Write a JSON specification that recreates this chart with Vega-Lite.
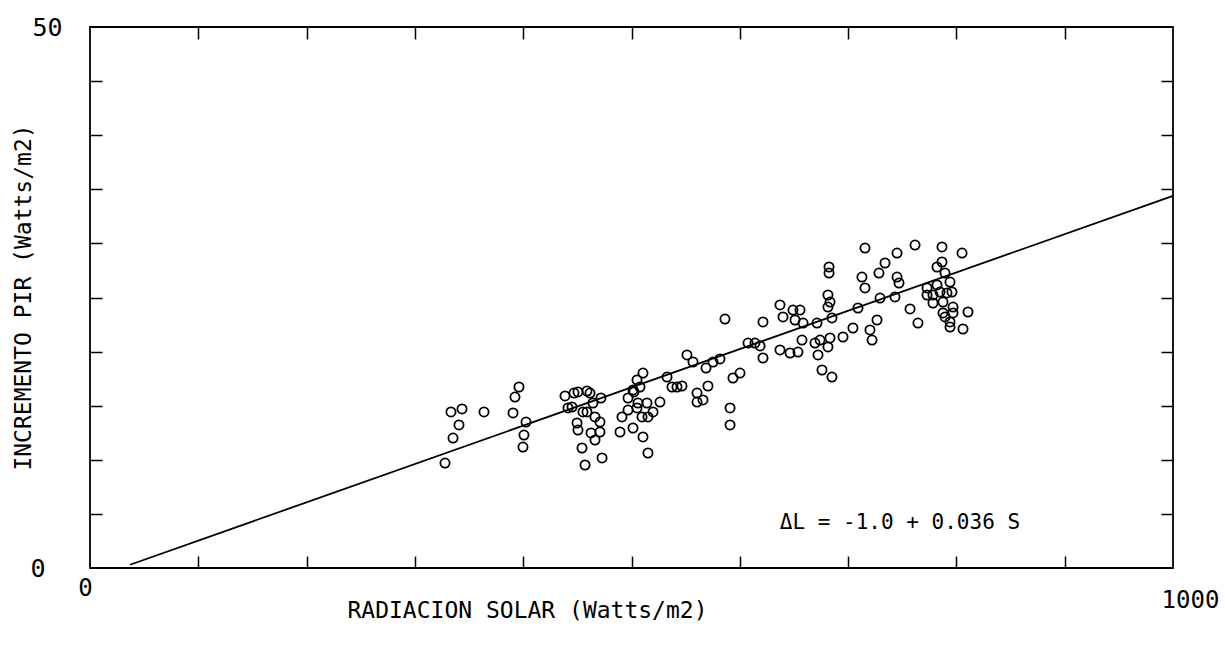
{
  "$schema": "https://vega.github.io/schema/vega-lite/v6.json",
  "width": 1083,
  "height": 541,
  "autosize": {"type": "none"},
  "padding": {"left": 90, "top": 27, "right": 52, "bottom": 78},
  "background": "white",
  "datasets": {
    "points": [
      {"S": 327.8, "L": 9.70}, {"S": 335.2, "L": 12.01}, {"S": 333.3, "L": 14.42}, {"S": 343.5, "L": 14.70},
      {"S": 340.7, "L": 13.22}, {"S": 363.8, "L": 14.42}, {"S": 390.6, "L": 14.33}, {"S": 392.4, "L": 15.80},
      {"S": 396.1, "L": 16.73}, {"S": 402.6, "L": 13.49}, {"S": 400.7, "L": 12.29}, {"S": 399.8, "L": 11.18},
      {"S": 438.6, "L": 15.90}, {"S": 441.4, "L": 14.79}, {"S": 446.9, "L": 16.17}, {"S": 450.6, "L": 16.27},
      {"S": 458.9, "L": 16.36}, {"S": 461.7, "L": 16.17}, {"S": 464.4, "L": 15.25}, {"S": 471.8, "L": 15.71},
      {"S": 445.1, "L": 14.88}, {"S": 455.2, "L": 14.42}, {"S": 458.9, "L": 14.42}, {"S": 466.3, "L": 13.96},
      {"S": 449.7, "L": 13.40}, {"S": 450.6, "L": 12.75}, {"S": 470.9, "L": 13.49}, {"S": 470.9, "L": 12.57},
      {"S": 462.6, "L": 12.48}, {"S": 466.3, "L": 11.83}, {"S": 454.3, "L": 11.09}, {"S": 457.1, "L": 9.52},
      {"S": 472.8, "L": 10.17}, {"S": 489.4, "L": 12.57}, {"S": 491.2, "L": 13.96}, {"S": 496.8, "L": 14.60},
      {"S": 501.4, "L": 12.94}, {"S": 505.1, "L": 14.79}, {"S": 506.0, "L": 15.25}, {"S": 509.7, "L": 13.96},
      {"S": 514.3, "L": 15.25}, {"S": 515.2, "L": 13.96}, {"S": 510.6, "L": 12.11}, {"S": 515.2, "L": 10.63},
      {"S": 519.9, "L": 14.42}, {"S": 526.3, "L": 15.34}, {"S": 501.4, "L": 16.45}, {"S": 507.8, "L": 16.73},
      {"S": 510.6, "L": 18.02}, {"S": 505.1, "L": 17.38}, {"S": 496.8, "L": 15.71}, {"S": 502.3, "L": 16.27},
      {"S": 532.8, "L": 17.65}, {"S": 537.4, "L": 16.73}, {"S": 542.0, "L": 16.73}, {"S": 546.6, "L": 16.82},
      {"S": 551.2, "L": 19.69}, {"S": 556.8, "L": 19.04}, {"S": 560.5, "L": 16.17}, {"S": 560.5, "L": 15.34},
      {"S": 566.0, "L": 15.53}, {"S": 568.8, "L": 18.48}, {"S": 575.3, "L": 19.04}, {"S": 581.7, "L": 19.32},
      {"S": 570.6, "L": 16.82}, {"S": 586.3, "L": 23.01}, {"S": 593.7, "L": 17.56}, {"S": 600.2, "L": 18.02},
      {"S": 591.0, "L": 14.79}, {"S": 591.0, "L": 13.22}, {"S": 607.6, "L": 20.79}, {"S": 614.0, "L": 20.79},
      {"S": 618.7, "L": 20.52}, {"S": 621.4, "L": 22.74}, {"S": 621.4, "L": 19.41}, {"S": 637.1, "L": 24.31},
      {"S": 649.1, "L": 23.84}, {"S": 655.6, "L": 23.84}, {"S": 639.9, "L": 23.20}, {"S": 651.0, "L": 22.92},
      {"S": 658.4, "L": 22.64}, {"S": 671.3, "L": 22.64}, {"S": 637.1, "L": 20.15}, {"S": 646.4, "L": 19.87},
      {"S": 653.7, "L": 19.96}, {"S": 657.4, "L": 21.07}, {"S": 669.4, "L": 20.79}, {"S": 672.2, "L": 19.69},
      {"S": 675.9, "L": 18.30}, {"S": 685.1, "L": 17.65}, {"S": 674.1, "L": 21.07}, {"S": 681.4, "L": 20.43},
      {"S": 683.3, "L": 21.26}, {"S": 681.4, "L": 25.23}, {"S": 683.3, "L": 24.58}, {"S": 681.4, "L": 24.12},
      {"S": 682.4, "L": 27.82}, {"S": 682.4, "L": 27.26}, {"S": 685.1, "L": 23.11}, {"S": 695.3, "L": 21.35},
      {"S": 704.5, "L": 22.18}, {"S": 709.1, "L": 24.03}, {"S": 712.8, "L": 26.89}, {"S": 715.6, "L": 25.88},
      {"S": 715.6, "L": 29.57}, {"S": 720.2, "L": 22.00}, {"S": 722.1, "L": 21.07}, {"S": 726.7, "L": 22.92},
      {"S": 728.5, "L": 27.26}, {"S": 729.5, "L": 24.95}, {"S": 734.1, "L": 28.19}, {"S": 743.3, "L": 25.05},
      {"S": 745.2, "L": 29.11}, {"S": 745.2, "L": 26.89}, {"S": 747.0, "L": 26.34}, {"S": 757.2, "L": 23.94},
      {"S": 761.8, "L": 29.85}, {"S": 764.5, "L": 22.64}, {"S": 772.9, "L": 25.88}, {"S": 772.9, "L": 25.23},
      {"S": 778.4, "L": 25.23}, {"S": 778.4, "L": 24.49}, {"S": 782.1, "L": 26.16}, {"S": 782.1, "L": 27.82},
      {"S": 784.9, "L": 25.51}, {"S": 786.7, "L": 28.28}, {"S": 786.7, "L": 29.67}, {"S": 787.6, "L": 24.58},
      {"S": 789.5, "L": 27.26}, {"S": 791.3, "L": 25.42}, {"S": 794.1, "L": 26.43}, {"S": 795.9, "L": 25.51},
      {"S": 796.9, "L": 24.12}, {"S": 796.9, "L": 23.57}, {"S": 787.6, "L": 23.57}, {"S": 789.5, "L": 23.20},
      {"S": 794.1, "L": 22.74}, {"S": 794.1, "L": 22.27}, {"S": 806.1, "L": 22.09}, {"S": 810.7, "L": 23.66},
      {"S": 805.2, "L": 29.11}
    ],
    "fit": [{"S": 37, "L": 0.3}, {"S": 1000, "L": 34.4}],
    "eq": [{"S": 637, "L": 4.16, "label": "ΔL = -1.0 + 0.036 S"}]
  },
  "resolve": {"axis": {"x": "independent", "y": "independent"}},
  "layer": [
    {
      "data": {"name": "points"},
      "mark": {"type": "point", "shape": "circle", "filled": false, "stroke": "black", "strokeWidth": 1.8, "size": 85, "opacity": 1},
      "encoding": {
        "x": {
          "field": "S", "type": "quantitative",
          "scale": {"domain": [0, 1000], "nice": false, "zero": false},
          "axis": {
            "orient": "bottom", "values": [0, 1000], "format": "d", "ticks": false, "domain": false,
            "labelFontSize": 24, "labelBaseline": {"condition": {"test": "datum.value == 0", "value": "middle"}, "value": "top"},
            "labelPadding": 20,
            "labelOffset": {"condition": {"test": "datum.value == 0", "value": -5}, "value": 17},
            "labelFlush": false,
            "title": "RADIACION SOLAR (Watts/m2)",
            "titleFontSize": 23, "titleX": 437, "titleY": 49, "titleAlign": "center", "titleBaseline": "alphabetic"
          }
        },
        "y": {
          "field": "L", "type": "quantitative",
          "scale": {"domain": [0, 50], "nice": false, "zero": false},
          "axis": {
            "orient": "left", "values": [0, 50], "format": "d", "ticks": false, "domain": false,
            "labelFontSize": 25, "labelBaseline": "middle", "labelAlign": "right", "labelFlush": false,
            "labelPadding": {"condition": {"test": "datum.value == 0", "value": 45}, "value": 28},
            "title": "INCREMENTO PIR (Watts/m2)",
            "titleFontSize": 23, "titleAngle": -90, "titleX": -60, "titleY": 270, "titleAlign": "center", "titleBaseline": "alphabetic"
          }
        }
      }
    },
    {
      "data": {"name": "fit"},
      "mark": {"type": "line", "stroke": "black", "strokeWidth": 1.8},
      "encoding": {
        "x": {
          "field": "S", "type": "quantitative",
          "axis": {"orient": "bottom", "values": [100, 200, 300, 400, 500, 600, 700, 800, 900], "labels": false, "domain": false, "tickSize": -12, "tickWidth": 1.5, "tickColor": "black", "title": null}
        },
        "y": {
          "field": "L", "type": "quantitative",
          "axis": {"orient": "left", "values": [5, 10, 15, 20, 25, 30, 35, 40, 45], "labels": false, "domain": false, "tickSize": -12, "tickWidth": 1.5, "tickColor": "black", "title": null}
        }
      }
    },
    {
      "data": {"name": "eq"},
      "mark": {"type": "text", "align": "left", "baseline": "middle", "fontSize": 21, "font": "DejaVu Sans Mono", "color": "black"},
      "encoding": {
        "x": {
          "field": "S", "type": "quantitative",
          "axis": {"orient": "top", "values": [100, 200, 300, 400, 500, 600, 700, 800, 900], "labels": false, "domain": false, "tickSize": -12, "tickWidth": 1.5, "tickColor": "black", "title": null}
        },
        "y": {
          "field": "L", "type": "quantitative",
          "axis": {"orient": "right", "values": [5, 10, 15, 20, 25, 30, 35, 40, 45], "labels": false, "domain": false, "tickSize": -12, "tickWidth": 1.5, "tickColor": "black", "title": null}
        },
        "text": {"field": "label"}
      }
    }
  ],
  "config": {
    "view": {"stroke": "black", "strokeWidth": 1.8},
    "axis": {
      "grid": false,
      "labelFont": "DejaVu Sans Mono",
      "titleFont": "DejaVu Sans Mono",
      "labelColor": "black",
      "titleColor": "black",
      "titleFontWeight": "normal"
    }
  }
}
